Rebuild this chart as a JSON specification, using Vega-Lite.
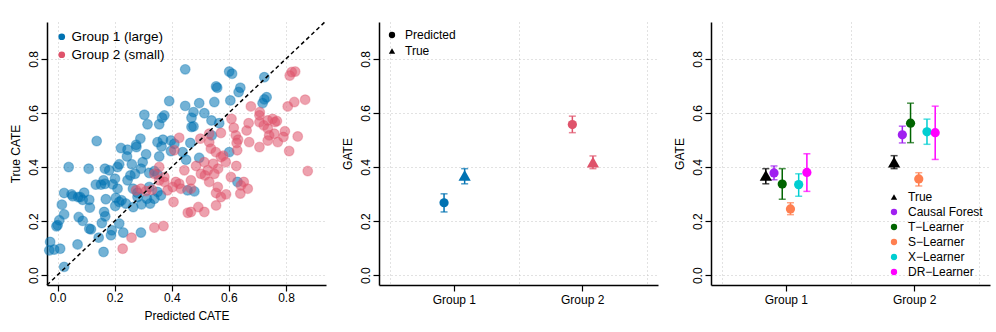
{
"$schema": "https://vega.github.io/schema/vega-lite/v6.json",
"padding": {"left": 8, "top": 21, "right": 5, "bottom": 5},
"bounds": "flush",
"spacing": 53,
"resolve": {"scale": {"x": "independent", "y": "independent", "xOffset": "independent", "color": "independent", "shape": "independent", "stroke": "independent"}, "legend": {"color": "independent", "shape": "independent", "stroke": "independent"}},
"config": {
  "font": "Liberation Sans",
  "view": {"stroke": null},
  "axis": {"domainColor": "black", "domainWidth": 1.5, "tickColor": "black", "tickWidth": 1.2, "tickSize": 6, "labelColor": "black", "labelFontSize": 12, "titleFontSize": 12, "titleColor": "black", "titleFontWeight": "normal", "gridColor": "#c4c4c4", "gridDash": [1, 3], "gridWidth": 1, "labelPadding": 1, "titlePadding": 5, "labelFont": "Liberation Sans", "titleFont": "Liberation Sans"},
  "legend": {"labelFont": "Liberation Sans", "labelColor": "black", "title": null, "padding": 0, "symbolStrokeWidth": 0, "symbolOpacity": 1}
},
"hconcat": [
{
  "width": 279, "height": 263,
  "layer": [
    {
      "data": {"values": [
{"p":0.447,"t":0.761,"g":"Group 1 (large)"},{"p":0.601,"t":0.753,"g":"Group 1 (large)"},{"p":0.611,"t":0.745,"g":"Group 1 (large)"},{"p":0.724,"t":0.732,"g":"Group 1 (large)"},{"p":0.555,"t":0.698,"g":"Group 1 (large)"},{"p":0.559,"t":0.693,"g":"Group 1 (large)"},{"p":0.640,"t":0.693,"g":"Group 1 (large)"},{"p":0.634,"t":0.677,"g":"Group 1 (large)"},{"p":0.732,"t":0.658,"g":"Group 1 (large)"},{"p":0.724,"t":0.650,"g":"Group 1 (large)"},{"p":0.718,"t":0.636,"g":"Group 1 (large)"},{"p":0.391,"t":0.644,"g":"Group 1 (large)"},{"p":0.605,"t":0.646,"g":"Group 1 (large)"},{"p":0.549,"t":0.640,"g":"Group 1 (large)"},{"p":0.496,"t":0.636,"g":"Group 1 (large)"},{"p":0.447,"t":0.626,"g":"Group 1 (large)"},{"p":0.476,"t":0.603,"g":"Group 1 (large)"},{"p":0.514,"t":0.599,"g":"Group 1 (large)"},{"p":0.374,"t":0.591,"g":"Group 1 (large)"},{"p":0.304,"t":0.593,"g":"Group 1 (large)"},{"p":0.469,"t":0.582,"g":"Group 1 (large)"},{"p":0.366,"t":0.582,"g":"Group 1 (large)"},{"p":0.539,"t":0.572,"g":"Group 1 (large)"},{"p":0.566,"t":0.562,"g":"Group 1 (large)"},{"p":0.315,"t":0.558,"g":"Group 1 (large)"},{"p":0.356,"t":0.558,"g":"Group 1 (large)"},{"p":0.476,"t":0.550,"g":"Group 1 (large)"},{"p":0.469,"t":0.548,"g":"Group 1 (large)"},{"p":0.540,"t":0.517,"g":"Group 1 (large)"},{"p":0.137,"t":0.496,"g":"Group 1 (large)"},{"p":0.290,"t":0.505,"g":"Group 1 (large)"},{"p":0.369,"t":0.501,"g":"Group 1 (large)"},{"p":0.397,"t":0.498,"g":"Group 1 (large)"},{"p":0.350,"t":0.492,"g":"Group 1 (large)"},{"p":0.275,"t":0.482,"g":"Group 1 (large)"},{"p":0.465,"t":0.489,"g":"Group 1 (large)"},{"p":0.409,"t":0.486,"g":"Group 1 (large)"},{"p":0.222,"t":0.470,"g":"Group 1 (large)"},{"p":0.245,"t":0.464,"g":"Group 1 (large)"},{"p":0.276,"t":0.474,"g":"Group 1 (large)"},{"p":0.364,"t":0.476,"g":"Group 1 (large)"},{"p":0.397,"t":0.459,"g":"Group 1 (large)"},{"p":0.438,"t":0.455,"g":"Group 1 (large)"},{"p":0.601,"t":0.455,"g":"Group 1 (large)"},{"p":0.310,"t":0.447,"g":"Group 1 (large)"},{"p":0.243,"t":0.439,"g":"Group 1 (large)"},{"p":0.356,"t":0.439,"g":"Group 1 (large)"},{"p":0.496,"t":0.434,"g":"Group 1 (large)"},{"p":0.450,"t":0.427,"g":"Group 1 (large)"},{"p":0.298,"t":0.418,"g":"Group 1 (large)"},{"p":0.260,"t":0.410,"g":"Group 1 (large)"},{"p":0.216,"t":0.410,"g":"Group 1 (large)"},{"p":0.210,"t":0.400,"g":"Group 1 (large)"},{"p":0.166,"t":0.394,"g":"Group 1 (large)"},{"p":0.292,"t":0.394,"g":"Group 1 (large)"},{"p":0.339,"t":0.385,"g":"Group 1 (large)"},{"p":0.039,"t":0.400,"g":"Group 1 (large)"},{"p":0.109,"t":0.394,"g":"Group 1 (large)"},{"p":0.255,"t":0.369,"g":"Group 1 (large)"},{"p":0.321,"t":0.378,"g":"Group 1 (large)"},{"p":0.350,"t":0.373,"g":"Group 1 (large)"},{"p":0.245,"t":0.351,"g":"Group 1 (large)"},{"p":0.201,"t":0.357,"g":"Group 1 (large)"},{"p":0.161,"t":0.351,"g":"Group 1 (large)"},{"p":0.134,"t":0.335,"g":"Group 1 (large)"},{"p":0.152,"t":0.335,"g":"Group 1 (large)"},{"p":0.166,"t":0.338,"g":"Group 1 (large)"},{"p":0.193,"t":0.336,"g":"Group 1 (large)"},{"p":0.210,"t":0.320,"g":"Group 1 (large)"},{"p":0.264,"t":0.320,"g":"Group 1 (large)"},{"p":0.280,"t":0.305,"g":"Group 1 (large)"},{"p":0.321,"t":0.326,"g":"Group 1 (large)"},{"p":0.350,"t":0.308,"g":"Group 1 (large)"},{"p":0.362,"t":0.295,"g":"Group 1 (large)"},{"p":0.023,"t":0.304,"g":"Group 1 (large)"},{"p":0.049,"t":0.299,"g":"Group 1 (large)"},{"p":0.079,"t":0.289,"g":"Group 1 (large)"},{"p":0.093,"t":0.305,"g":"Group 1 (large)"},{"p":0.088,"t":0.279,"g":"Group 1 (large)"},{"p":0.111,"t":0.279,"g":"Group 1 (large)"},{"p":0.072,"t":0.289,"g":"Group 1 (large)"},{"p":0.169,"t":0.281,"g":"Group 1 (large)"},{"p":0.204,"t":0.286,"g":"Group 1 (large)"},{"p":0.216,"t":0.271,"g":"Group 1 (large)"},{"p":0.224,"t":0.277,"g":"Group 1 (large)"},{"p":0.239,"t":0.265,"g":"Group 1 (large)"},{"p":0.265,"t":0.252,"g":"Group 1 (large)"},{"p":0.294,"t":0.262,"g":"Group 1 (large)"},{"p":0.324,"t":0.265,"g":"Group 1 (large)"},{"p":0.339,"t":0.283,"g":"Group 1 (large)"},{"p":0.202,"t":0.256,"g":"Group 1 (large)"},{"p":0.015,"t":0.261,"g":"Group 1 (large)"},{"p":0.113,"t":0.250,"g":"Group 1 (large)"},{"p":0.163,"t":0.234,"g":"Group 1 (large)"},{"p":0.167,"t":0.218,"g":"Group 1 (large)"},{"p":0.023,"t":0.225,"g":"Group 1 (large)"},{"p":0.006,"t":0.203,"g":"Group 1 (large)"},{"p":0.074,"t":0.215,"g":"Group 1 (large)"},{"p":0.088,"t":0.201,"g":"Group 1 (large)"},{"p":0.000,"t":0.185,"g":"Group 1 (large)"},{"p":-0.004,"t":0.181,"g":"Group 1 (large)"},{"p":0.155,"t":0.193,"g":"Group 1 (large)"},{"p":0.216,"t":0.191,"g":"Group 1 (large)"},{"p":0.117,"t":0.170,"g":"Group 1 (large)"},{"p":0.111,"t":0.172,"g":"Group 1 (large)"},{"p":0.190,"t":0.166,"g":"Group 1 (large)"},{"p":0.230,"t":0.158,"g":"Group 1 (large)"},{"p":0.292,"t":0.158,"g":"Group 1 (large)"},{"p":0.187,"t":0.148,"g":"Group 1 (large)"},{"p":0.144,"t":0.139,"g":"Group 1 (large)"},{"p":0.070,"t":0.114,"g":"Group 1 (large)"},{"p":-0.026,"t":0.123,"g":"Group 1 (large)"},{"p":-0.029,"t":0.092,"g":"Group 1 (large)"},{"p":-0.012,"t":0.095,"g":"Group 1 (large)"},{"p":0.009,"t":0.098,"g":"Group 1 (large)"},{"p":0.161,"t":0.086,"g":"Group 1 (large)"},{"p":0.023,"t":0.031,"g":"Group 1 (large)"},{"p":0.280,"t":0.289,"g":"Group 1 (large)"},{"p":0.313,"t":0.283,"g":"Group 1 (large)"},{"p":0.630,"t":0.345,"g":"Group 1 (large)"},{"p":0.455,"t":0.314,"g":"Group 1 (large)"},{"p":0.479,"t":0.310,"g":"Group 1 (large)"},{"p":0.181,"t":0.388,"g":"Group 1 (large)"},{"p":0.271,"t":0.375,"g":"Group 1 (large)"},{"p":0.053,"t":0.292,"g":"Group 1 (large)"},
{"p":0.820,"t":0.751,"g":"Group 2 (small)"},{"p":0.832,"t":0.753,"g":"Group 2 (small)"},{"p":0.813,"t":0.738,"g":"Group 2 (small)"},{"p":0.867,"t":0.649,"g":"Group 2 (small)"},{"p":0.829,"t":0.640,"g":"Group 2 (small)"},{"p":0.806,"t":0.624,"g":"Group 2 (small)"},{"p":0.677,"t":0.624,"g":"Group 2 (small)"},{"p":0.708,"t":0.603,"g":"Group 2 (small)"},{"p":0.609,"t":0.578,"g":"Group 2 (small)"},{"p":0.669,"t":0.562,"g":"Group 2 (small)"},{"p":0.617,"t":0.545,"g":"Group 2 (small)"},{"p":0.707,"t":0.591,"g":"Group 2 (small)"},{"p":0.722,"t":0.554,"g":"Group 2 (small)"},{"p":0.736,"t":0.572,"g":"Group 2 (small)"},{"p":0.753,"t":0.578,"g":"Group 2 (small)"},{"p":0.761,"t":0.566,"g":"Group 2 (small)"},{"p":0.768,"t":0.570,"g":"Group 2 (small)"},{"p":0.707,"t":0.566,"g":"Group 2 (small)"},{"p":0.796,"t":0.532,"g":"Group 2 (small)"},{"p":0.736,"t":0.542,"g":"Group 2 (small)"},{"p":0.741,"t":0.517,"g":"Group 2 (small)"},{"p":0.759,"t":0.523,"g":"Group 2 (small)"},{"p":0.791,"t":0.511,"g":"Group 2 (small)"},{"p":0.841,"t":0.513,"g":"Group 2 (small)"},{"p":0.572,"t":0.526,"g":"Group 2 (small)"},{"p":0.531,"t":0.523,"g":"Group 2 (small)"},{"p":0.662,"t":0.535,"g":"Group 2 (small)"},{"p":0.624,"t":0.517,"g":"Group 2 (small)"},{"p":0.632,"t":0.501,"g":"Group 2 (small)"},{"p":0.627,"t":0.489,"g":"Group 2 (small)"},{"p":0.671,"t":0.492,"g":"Group 2 (small)"},{"p":0.736,"t":0.498,"g":"Group 2 (small)"},{"p":0.771,"t":0.492,"g":"Group 2 (small)"},{"p":0.707,"t":0.474,"g":"Group 2 (small)"},{"p":0.811,"t":0.459,"g":"Group 2 (small)"},{"p":0.531,"t":0.492,"g":"Group 2 (small)"},{"p":0.500,"t":0.505,"g":"Group 2 (small)"},{"p":0.426,"t":0.508,"g":"Group 2 (small)"},{"p":0.537,"t":0.468,"g":"Group 2 (small)"},{"p":0.554,"t":0.455,"g":"Group 2 (small)"},{"p":0.580,"t":0.442,"g":"Group 2 (small)"},{"p":0.629,"t":0.462,"g":"Group 2 (small)"},{"p":0.572,"t":0.437,"g":"Group 2 (small)"},{"p":0.514,"t":0.418,"g":"Group 2 (small)"},{"p":0.545,"t":0.412,"g":"Group 2 (small)"},{"p":0.589,"t":0.418,"g":"Group 2 (small)"},{"p":0.626,"t":0.404,"g":"Group 2 (small)"},{"p":0.485,"t":0.404,"g":"Group 2 (small)"},{"p":0.526,"t":0.388,"g":"Group 2 (small)"},{"p":0.562,"t":0.394,"g":"Group 2 (small)"},{"p":0.444,"t":0.388,"g":"Group 2 (small)"},{"p":0.502,"t":0.375,"g":"Group 2 (small)"},{"p":0.516,"t":0.369,"g":"Group 2 (small)"},{"p":0.549,"t":0.375,"g":"Group 2 (small)"},{"p":0.467,"t":0.351,"g":"Group 2 (small)"},{"p":0.531,"t":0.345,"g":"Group 2 (small)"},{"p":0.607,"t":0.363,"g":"Group 2 (small)"},{"p":0.652,"t":0.345,"g":"Group 2 (small)"},{"p":0.666,"t":0.320,"g":"Group 2 (small)"},{"p":0.642,"t":0.332,"g":"Group 2 (small)"},{"p":0.561,"t":0.326,"g":"Group 2 (small)"},{"p":0.555,"t":0.304,"g":"Group 2 (small)"},{"p":0.572,"t":0.289,"g":"Group 2 (small)"},{"p":0.590,"t":0.299,"g":"Group 2 (small)"},{"p":0.640,"t":0.302,"g":"Group 2 (small)"},{"p":0.356,"t":0.400,"g":"Group 2 (small)"},{"p":0.339,"t":0.375,"g":"Group 2 (small)"},{"p":0.374,"t":0.363,"g":"Group 2 (small)"},{"p":0.356,"t":0.351,"g":"Group 2 (small)"},{"p":0.374,"t":0.345,"g":"Group 2 (small)"},{"p":0.414,"t":0.345,"g":"Group 2 (small)"},{"p":0.426,"t":0.338,"g":"Group 2 (small)"},{"p":0.403,"t":0.326,"g":"Group 2 (small)"},{"p":0.432,"t":0.320,"g":"Group 2 (small)"},{"p":0.385,"t":0.314,"g":"Group 2 (small)"},{"p":0.292,"t":0.320,"g":"Group 2 (small)"},{"p":0.310,"t":0.311,"g":"Group 2 (small)"},{"p":0.331,"t":0.316,"g":"Group 2 (small)"},{"p":0.406,"t":0.271,"g":"Group 2 (small)"},{"p":0.467,"t":0.320,"g":"Group 2 (small)"},{"p":0.456,"t":0.231,"g":"Group 2 (small)"},{"p":0.467,"t":0.234,"g":"Group 2 (small)"},{"p":0.493,"t":0.252,"g":"Group 2 (small)"},{"p":0.514,"t":0.234,"g":"Group 2 (small)"},{"p":0.555,"t":0.258,"g":"Group 2 (small)"},{"p":0.339,"t":0.176,"g":"Group 2 (small)"},{"p":0.371,"t":0.182,"g":"Group 2 (small)"},{"p":0.259,"t":0.139,"g":"Group 2 (small)"},{"p":0.228,"t":0.098,"g":"Group 2 (small)"},{"p":0.876,"t":0.385,"g":"Group 2 (small)"},{"p":0.409,"t":0.462,"g":"Group 2 (small)"},{"p":0.275,"t":0.314,"g":"Group 2 (small)"}
      ]},
      "mark": {"type": "circle", "size": 95, "fillOpacity": 0.55, "strokeOpacity": 0.35, "strokeWidth": 1.2},
      "encoding": {
        "x": {"field": "p", "type": "quantitative", "title": "Predicted CATE", "scale": {"domain": [-0.037, 0.94], "nice": false, "zero": false}, "axis": {"values": [0, 0.2, 0.4, 0.6, 0.8], "format": ".1f", "grid": true, "titlePadding": 7}},
        "y": {"field": "t", "type": "quantitative", "title": "True CATE", "scale": {"domain": [-0.036, 0.936], "nice": false, "zero": false}, "axis": {"values": [0, 0.2, 0.4, 0.6, 0.8], "format": ".1f", "grid": true, "labelAngle": -90}},
        "color": {"field": "g", "type": "nominal", "scale": {"domain": ["Group 1 (large)", "Group 2 (small)"], "range": ["#0072B2", "#DF536B"]}, "legend": {"orient": "top-left", "offset": 8, "labelFontSize": 13.5, "symbolSize": 45, "symbolType": "circle", "rowPadding": 3, "labelOffset": 3}},
        "stroke": {"field": "g", "type": "nominal", "scale": {"domain": ["Group 1 (large)", "Group 2 (small)"], "range": ["#0072B2", "#DF536B"]}, "legend": null}
      }
    },
    {
      "data": {"values": [{}]},
      "mark": {"type": "rule", "strokeDash": [4, 3], "strokeWidth": 1.5, "color": "black"},
      "encoding": {
        "x": {"datum": -0.037, "type": "quantitative"},
        "y": {"datum": -0.036, "type": "quantitative"},
        "x2": {"datum": 0.936},
        "y2": {"datum": 0.936}
      }
    }
  ]
},
{
  "width": 279, "height": 263,
  "data": {"values": [
    {"group": "Group 1", "series": "Predicted", "est": 0.268, "lo": 0.234, "hi": 0.301},
    {"group": "Group 1", "series": "True", "est": 0.369, "lo": 0.338, "hi": 0.394},
    {"group": "Group 2", "series": "Predicted", "est": 0.557, "lo": 0.527, "hi": 0.588},
    {"group": "Group 2", "series": "True", "est": 0.418, "lo": 0.394, "hi": 0.441}
  ]},
  "resolve": {"scale": {"x": "independent"}, "axis": {"x": "independent"}},
  "layer": [
    {
      "mark": {"type": "point", "opacity": 0},
      "encoding": {
        "x": {"field": "group", "type": "nominal", "scale": {"paddingInner": 0, "paddingOuter": 0.0873}, "axis": {"orient": "bottom", "tickBand": "extent", "grid": true, "ticks": false, "labels": false, "domain": true, "title": null}},
        "y": {"field": "est", "type": "quantitative", "title": "GATE", "scale": {"domain": [-0.036, 0.936], "nice": false, "zero": false}, "axis": {"values": [0, 0.2, 0.4, 0.6, 0.8], "format": ".1f", "grid": true, "labelAngle": -90}}
      }
    },
    {
      "encoding": {
        "x": {"field": "group", "type": "nominal", "scale": {"paddingInner": 0.679, "paddingOuter": 0.4268}, "axis": {"orient": "bottom", "grid": false, "ticks": true, "domain": false, "labels": true, "title": null, "labelAngle": 0, "labelPadding": 3}},
        "xOffset": {"field": "series", "type": "nominal", "sort": ["Predicted", "True"], "scale": {"paddingInner": 0, "paddingOuter": 0}},
        "color": {"field": "group", "type": "nominal", "scale": {"domain": ["Group 1", "Group 2"], "range": ["#0072B2", "#DF536B"]}, "legend": null}
      },
      "layer": [
        {
          "mark": {"type": "rule", "strokeWidth": 1.5},
          "encoding": {"y": {"field": "lo", "type": "quantitative", "title": "GATE"}, "y2": {"field": "hi"}}
        },
        {
          "mark": {"type": "tick", "thickness": 1.5, "size": 7, "orient": "horizontal"},
          "encoding": {"y": {"field": "lo", "type": "quantitative", "title": "GATE"}}
        },
        {
          "mark": {"type": "tick", "thickness": 1.5, "size": 7, "orient": "horizontal"},
          "encoding": {"y": {"field": "hi", "type": "quantitative", "title": "GATE"}}
        },
        {
          "transform": [{"filter": "datum.series == 'Predicted'"}],
          "mark": {"type": "point", "filled": true, "opacity": 1, "size": 85},
          "encoding": {
            "y": {"field": "est", "type": "quantitative", "title": "GATE"},
            "shape": {"field": "series", "type": "nominal", "scale": {"domain": ["Predicted", "True"], "range": ["circle", "triangle-up"]}, "legend": {"orient": "top-left", "offset": 7, "labelFontSize": 12, "symbolSize": 40, "symbolFillColor": "black", "symbolStrokeColor": "black", "rowPadding": 4, "labelOffset": 7}}
          }
        },
        {
          "transform": [{"filter": "datum.series == 'True'"}],
          "mark": {"type": "point", "filled": true, "opacity": 1, "size": 150},
          "encoding": {
            "y": {"field": "est", "type": "quantitative", "title": "GATE"},
            "shape": {"field": "series", "type": "nominal", "scale": {"domain": ["Predicted", "True"], "range": ["circle", "triangle-up"]}}
          }
        }
      ]
    }
  ]
},
{
  "width": 279, "height": 263,
  "data": {"values": [
    {"group": "Group 1", "series": "True", "est": 0.369, "lo": 0.338, "hi": 0.394},
    {"group": "Group 1", "series": "Causal Forest", "est": 0.378, "lo": 0.353, "hi": 0.404},
    {"group": "Group 1", "series": "T\u2212Learner", "est": 0.337, "lo": 0.281, "hi": 0.394},
    {"group": "Group 1", "series": "S\u2212Learner", "est": 0.245, "lo": 0.224, "hi": 0.268},
    {"group": "Group 1", "series": "X\u2212Learner", "est": 0.335, "lo": 0.292, "hi": 0.375},
    {"group": "Group 1", "series": "DR\u2212Learner", "est": 0.380, "lo": 0.310, "hi": 0.449},
    {"group": "Group 2", "series": "True", "est": 0.418, "lo": 0.394, "hi": 0.442},
    {"group": "Group 2", "series": "Causal Forest", "est": 0.519, "lo": 0.489, "hi": 0.551},
    {"group": "Group 2", "series": "T\u2212Learner", "est": 0.562, "lo": 0.490, "hi": 0.636},
    {"group": "Group 2", "series": "S\u2212Learner", "est": 0.356, "lo": 0.330, "hi": 0.379},
    {"group": "Group 2", "series": "X\u2212Learner", "est": 0.530, "lo": 0.484, "hi": 0.577},
    {"group": "Group 2", "series": "DR\u2212Learner", "est": 0.527, "lo": 0.428, "hi": 0.625}
  ]},
  "resolve": {"scale": {"x": "independent"}, "axis": {"x": "independent"}},
  "layer": [
    {
      "mark": {"type": "point", "opacity": 0},
      "encoding": {
        "x": {"field": "group", "type": "nominal", "scale": {"paddingInner": 0, "paddingOuter": 0.0873}, "axis": {"orient": "bottom", "tickBand": "extent", "grid": true, "ticks": false, "labels": false, "domain": true, "title": null}},
        "y": {"field": "est", "type": "quantitative", "title": "GATE", "scale": {"domain": [-0.036, 0.936], "nice": false, "zero": false}, "axis": {"values": [0, 0.2, 0.4, 0.6, 0.8], "format": ".1f", "grid": true, "labelAngle": -90}}
      }
    },
    {
      "encoding": {
        "x": {"field": "group", "type": "nominal", "scale": {"paddingInner": 0.6157, "paddingOuter": 0.3951}, "axis": {"orient": "bottom", "grid": false, "ticks": true, "domain": false, "labels": true, "title": null, "labelAngle": 0, "labelPadding": 3}},
        "xOffset": {"field": "series", "type": "nominal", "sort": ["True", "Causal Forest", "T\u2212Learner", "S\u2212Learner", "X\u2212Learner", "DR\u2212Learner"], "scale": {"paddingInner": 0, "paddingOuter": 0}},
        "color": {"field": "series", "type": "nominal", "scale": {"domain": ["True", "Causal Forest", "T\u2212Learner", "S\u2212Learner", "X\u2212Learner", "DR\u2212Learner"], "range": ["#000000", "#A020F0", "#006400", "#FF7F50", "#00CED1", "#FF00FF"]}, "legend": {"orient": "bottom-right", "offset": 7, "labelFontSize": 12, "symbolSize": 40, "rowPadding": 3, "labelOffset": 8}}
      },
      "layer": [
        {
          "mark": {"type": "rule", "strokeWidth": 1.5},
          "encoding": {"y": {"field": "lo", "type": "quantitative", "title": "GATE"}, "y2": {"field": "hi"}}
        },
        {
          "mark": {"type": "tick", "thickness": 1.5, "size": 7, "orient": "horizontal"},
          "encoding": {"y": {"field": "lo", "type": "quantitative", "title": "GATE"}}
        },
        {
          "mark": {"type": "tick", "thickness": 1.5, "size": 7, "orient": "horizontal"},
          "encoding": {"y": {"field": "hi", "type": "quantitative", "title": "GATE"}}
        },
        {
          "transform": [{"filter": "datum.series == 'True'"}],
          "mark": {"type": "point", "filled": true, "opacity": 1, "size": 150},
          "encoding": {
            "y": {"field": "est", "type": "quantitative", "title": "GATE"},
            "shape": {"field": "series", "type": "nominal", "scale": {"domain": ["True", "Causal Forest", "T\u2212Learner", "S\u2212Learner", "X\u2212Learner", "DR\u2212Learner"], "range": ["triangle-up", "circle", "circle", "circle", "circle", "circle"]}, "legend": {"orient": "bottom-right", "offset": 7, "labelFontSize": 12, "symbolSize": 40, "rowPadding": 3, "labelOffset": 8}}
          }
        },
        {
          "transform": [{"filter": "datum.series != 'True'"}],
          "mark": {"type": "point", "filled": true, "opacity": 1, "size": 85},
          "encoding": {
            "y": {"field": "est", "type": "quantitative", "title": "GATE"},
            "shape": {"field": "series", "type": "nominal", "scale": {"domain": ["True", "Causal Forest", "T\u2212Learner", "S\u2212Learner", "X\u2212Learner", "DR\u2212Learner"], "range": ["triangle-up", "circle", "circle", "circle", "circle", "circle"]}}
          }
        }
      ]
    }
  ]
}
]
}
